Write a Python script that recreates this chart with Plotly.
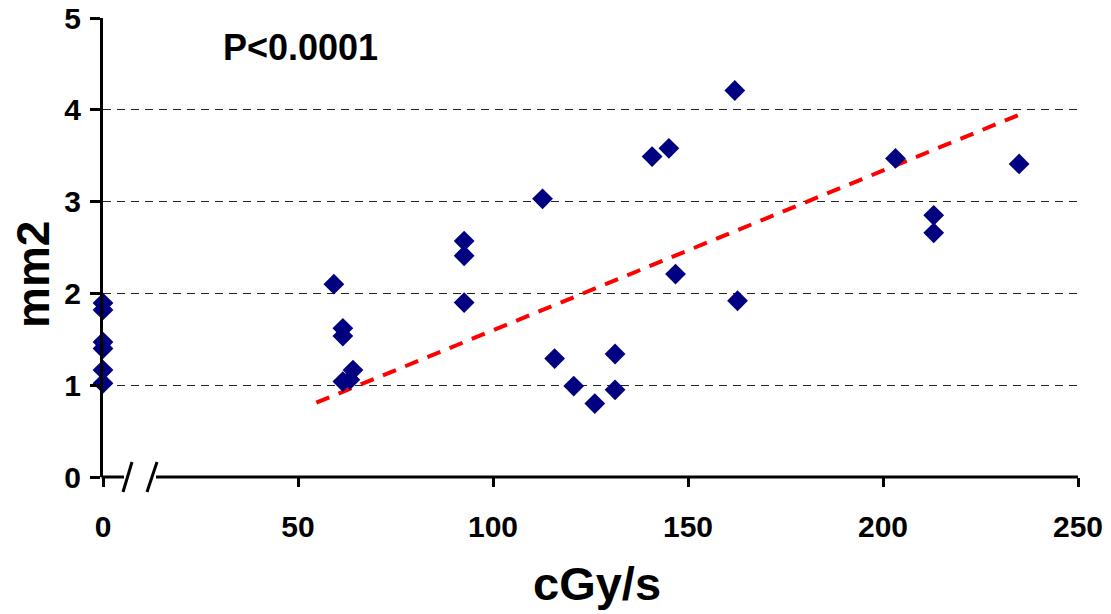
import plotly.graph_objects as go

# Data
dose_rate = [0, 0, 0, 0, 0, 0,
             59.2, 61.5, 61.5, 61.5, 64.1, 63.3,
             92.6, 92.6, 92.6, 112.7, 115.8, 120.7, 126.1, 131.3, 131.3,
             140.8, 145.1, 146.8, 162.0, 162.7, 203.2, 213.0, 213.0, 234.9]
area_mm2 = [1.895, 1.82, 1.47, 1.40, 1.165, 1.02,
            2.10, 1.62, 1.535, 1.04, 1.165, 1.06,
            2.57, 2.41, 1.90, 3.03, 1.29, 0.99, 0.80, 1.34, 0.95,
            3.49, 3.58, 2.21, 4.21, 1.92, 3.47, 2.85, 2.66, 3.41]
trend_x = [54.7, 236.6]
trend_y = [0.81, 3.975]
x_ticks = [0, 50, 100, 150, 200, 250]
y_ticks = [0, 1, 2, 3, 4, 5]

FONT = "Liberation Sans, Arial, sans-serif"

fig = go.Figure()
fig.add_trace(go.Scatter(
    x=trend_x, y=trend_y, mode="lines",
    line=dict(color="#FF0000", width=4, dash="14px,10px"),
    hoverinfo="skip", showlegend=False))
fig.add_trace(go.Scatter(
    x=dose_rate, y=area_mm2, mode="markers", cliponaxis=False,
    marker=dict(symbol="diamond", size=16, color="#000080", line=dict(width=0)),
    showlegend=False))

W, H = 1111, 614
ml, mr, mt, mb = 103, 33, 18, 137
pw = W - ml - mr
ph = H - mt - mb

def px(xp):
    return (xp - ml) / pw

def py(yp):
    return (H - mb - yp) / ph

shapes = []
# x axis line with break
shapes.append(dict(type="line", xref="paper", yref="paper", x0=px(123), x1=px(147), y0=0, y1=0,
                   line=dict(color="white", width=5), layer="below"))
shapes.append(dict(type="line", xref="paper", yref="paper", x0=px(101.5), x1=px(124), y0=0, y1=0,
                   line=dict(color="black", width=3), layer="above"))
shapes.append(dict(type="line", xref="paper", yref="paper", x0=px(156), x1=1.0, y0=0, y1=0,
                   line=dict(color="black", width=3), layer="above"))
for a, b in [(123, 132), (147, 157)]:
    shapes.append(dict(type="line", xref="paper", yref="paper", x0=px(a), x1=px(b),
                       y0=py(492), y1=py(462), line=dict(color="black", width=3), layer="above"))

fig.update_layout(
    width=W, height=H,
    margin=dict(l=ml, r=mr, t=mt, b=mb, pad=0, autoexpand=False),
    paper_bgcolor="white", plot_bgcolor="white",
    font=dict(family=FONT, color="black"),
    shapes=shapes,
    xaxis=dict(range=[0, 250], tickvals=x_ticks, ticks="outside", ticklen=9, tickwidth=3,
               tickcolor="black", showline=False, showgrid=False, zeroline=False,
               automargin=False,
               tickfont=dict(family=FONT, size=30, weight="bold", color="black"),
               ticklabelstandoff=14),
    yaxis=dict(range=[0, 5], tickvals=y_ticks, ticks="outside", ticklen=10, tickwidth=3,
               tickcolor="black", showline=True, linewidth=3, linecolor="black",
               showgrid=True, gridcolor="#222222", gridwidth=1, griddash="8px,6px",
               zeroline=False, automargin=False,
               tickfont=dict(family=FONT, size=30, weight="bold", color="black"),
               ticklabelstandoff=3),
    annotations=[
        dict(text="P<0.0001", x=50.7, y=4.68, xref="x", yref="y", showarrow=False,
             xanchor="center", yanchor="middle",
             font=dict(family=FONT, size=36, weight="bold", color="black")),
        dict(text="mm2", x=px(33), y=py(275), xref="paper", yref="paper", showarrow=False,
             textangle=-90, xanchor="center", yanchor="middle",
             font=dict(family=FONT, size=46, weight="bold", color="black")),
        dict(text="cGy/s", x=px(597), y=py(583), xref="paper", yref="paper", showarrow=False,
             xanchor="center", yanchor="middle",
             font=dict(family=FONT, size=47, weight="bold", color="black")),
    ],
)

fig.write_html("out.html")
